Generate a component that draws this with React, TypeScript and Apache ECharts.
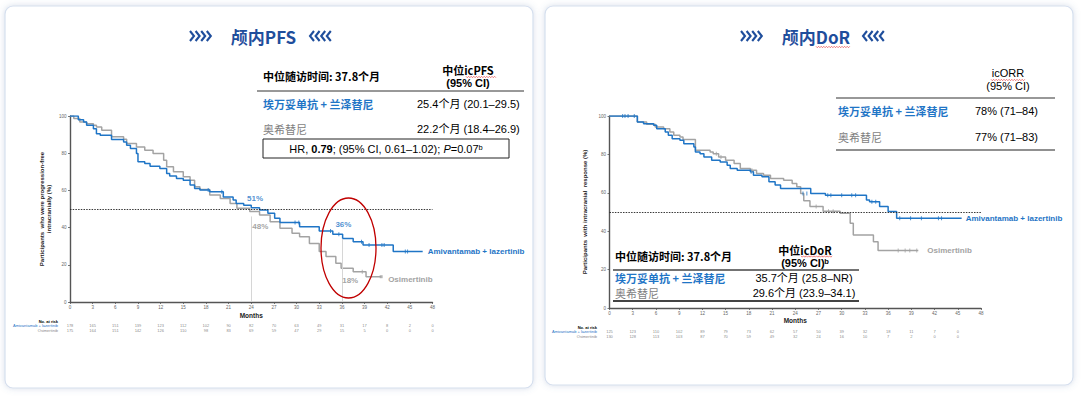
import React, { useEffect, useRef } from "react";
import * as echarts from "echarts";

// ---------------- DATA ----------------
const riskMonthsPFS = [0, 3, 6, 9, 12, 15, 18, 21, 24, 27, 30, 33, 36, 39, 42, 45, 48];
const riskMonthsDoR = [0, 3, 6, 9, 12, 15, 18, 21, 24, 27, 30, 33, 36, 39, 42, 45];

const pfsAmiRisk = [178, 165, 151, 139, 123, 112, 102, 90, 82, 70, 63, 49, 31, 17, 8, 2, 0];
const pfsOsiRisk = [175, 164, 151, 142, 126, 110, 98, 83, 69, 59, 47, 29, 15, 5, 0, 0, 0];
const dorAmiRisk = [125, 123, 110, 102, 89, 79, 73, 62, 57, 50, 39, 32, 18, 11, 7, 0];
const dorOsiRisk = [130, 128, 113, 103, 87, 70, 59, 49, 32, 24, 16, 10, 7, 2, 0, 0];

// Kaplan-Meier steps: [month, % after step]
const pfsAmi = [
  [0, 100], [1.1, 98], [1.8, 96.8], [2.2, 95], [3.1, 93.2], [3.5, 90.5], [4, 89.6], [5.5, 87.3],
  [7.1, 86], [7.5, 84.3], [8, 82.5], [8.8, 79.8], [9, 75.4], [9.9, 74.5], [10.6, 73], [11.9, 71.8],
  [12.8, 69.1], [13.2, 67.7], [14.1, 66.4], [15, 65.5], [15.9, 62.9], [16.5, 61], [17.2, 60.2],
  [18.5, 59.3], [20.3, 56.5], [21.6, 54.8], [22, 53], [23, 52], [24, 50.7], [25.1, 49.5],
  [26.2, 47.7], [27.1, 45], [27.8, 42.7], [30.4, 40.5], [33, 38.2], [34.8, 36.4], [36.1, 34.2],
  [37.5, 32.4], [38.8, 30.6], [42.8, 27.1], [46.7, 27.1],
];
const pfsOsi = [
  [0, 100], [0.5, 98.6], [1.3, 96.8], [2.2, 95.9], [3.1, 95], [3.5, 94.1], [4.2, 92.3], [5.5, 88.8],
  [7.1, 87.5], [7.5, 85.2], [8.8, 83.4], [9.9, 81.6], [11, 79.8], [12.4, 76.2], [12.8, 72.7],
  [13.7, 70], [15, 67.3], [15.9, 65.5], [16.5, 62], [17.2, 60.5], [18.5, 57.5], [19.9, 55.7],
  [21.2, 53], [22.1, 50.4], [23.8, 48.6], [25.1, 46.8], [26.5, 43.2], [27.8, 39.6], [29.4, 36.9],
  [30.4, 35.1], [31.7, 31.5], [33, 27.1], [33.9, 24.4], [35.2, 20.8], [35.9, 18.1], [37.5, 16.3],
  [39.2, 13.6], [41.2, 13.6],
];
const pfsAmiCensor = [
  [18.3, 60.2], [20.1, 59.3], [29.8, 42.7], [30.3, 42.7], [34.5, 38.2], [35.6, 36.4], [38.6, 32.4],
  [39.6, 30.6], [41.3, 30.6], [41.6, 30.6], [44.4, 27.1], [44.7, 27.1],
];
const pfsOsiCensor = [[38.7, 16.3]];
const pfsOsiEnd = [[41.2, 13.6]];

const dorAmi = [
  [0, 100], [3.6, 96.9], [4.4, 96], [5.7, 95.2], [6.1, 93.4], [7.2, 91.7], [7.6, 90], [8.1, 88.2],
  [9.1, 87.4], [9.6, 85.6], [10.9, 83.9], [11.1, 81.3], [11.7, 80.4], [12.2, 78.7], [13.2, 77],
  [14.3, 76.1], [15.2, 74.4], [15.6, 72.7], [16.5, 71.8], [18.2, 70.9], [18.6, 69.2], [19.7, 68.3],
  [20.6, 65.7], [21.4, 64], [22.1, 62.3], [26, 59.7], [27.9, 58.7], [33.2, 56.2], [33.6, 55.4],
  [34.9, 52.8], [36, 50.2], [37.1, 46.7], [45.5, 46.7],
];
const dorOsi = [
  [0, 100], [3.6, 96.9], [4.8, 95.7], [5.9, 94.3], [7, 93.4], [7.8, 91.7], [8.3, 90], [9.1, 89.1],
  [9.5, 87.7], [11.1, 82.2], [13, 81.3], [13.4, 80.4], [14.1, 78.7], [15, 77], [16.1, 75.3],
  [16.9, 72.7], [18.2, 71.8], [19, 70], [19.9, 69.2], [20.8, 67.5], [22.5, 66.6], [23.6, 64.9],
  [24.2, 63.1], [24.7, 59.7], [25.1, 55.8], [25.9, 52.8], [27.6, 50.4], [29.8, 49.3], [31.1, 44.1],
  [31.5, 38], [34.1, 34.5], [34.7, 30], [39.9, 30],
];
const dorAmiCensor = [
  [1.7, 100], [2.0, 100], [2.4, 100], [3.2, 100], [18.3, 70.9], [25.0, 59.7], [25.5, 59.7],
  [28.2, 58.7], [28.6, 58.7], [30.0, 58.7], [31.3, 58.7], [31.8, 58.7], [33.9, 55.4], [34.4, 55.4],
  [37.5, 46.7], [38.9, 46.7], [40.3, 46.7], [42.5, 46.7], [42.9, 46.7],
];
const dorOsiCensor = [
  [13.8, 80.4], [14.4, 78.7], [18.4, 71.8], [26.7, 52.8], [28.3, 50.4], [28.9, 50.4],
  [37.3, 30], [38.2, 30], [38.8, 30], [39.7, 30],
];

const pfsAmiNotes = [[24.5, 55.7, "51%"], [36.2, 41.4, "36%"]];
const pfsOsiNotes = [[25.2, 40.5, "48%"], [37.1, 11.8, "18%"]];
const pfsRefLines = [[24, 46], [36, 34]];

const yTicks = [0, 20, 40, 60, 80, 100];

// ---------------- STYLE ----------------
const BLUE = "#1f75c6";
const GRAY = "#a3a3a3";
const TITLE = "#1f4e9c";
const LAT = '"Liberation Sans", Arial, "Noto Sans CJK SC", sans-serif';
const CJK = '"Noto Sans CJK SC", "Liberation Sans", sans-serif';

function txt(x: number, y: number, text: string, o: any = {}) {
  const align = o.align || "left";
  return {
    type: "text",
    z: 50,
    silent: true,
    style: {
      x, y, text,
      fill: o.fill || "#000",
      fontSize: o.size || 11,
      fontWeight: o.weight || "normal",
      fontFamily: o.family || LAT,
      fontStyle: o.style || "normal",
      align, textAlign: align,
      verticalAlign: "middle", textVerticalAlign: "middle",
      rich: o.rich,
    },
  };
}
function hline(x1: number, x2: number, y: number, color = "#333", w = 1) {
  return { type: "line", z: 50, silent: true, shape: { x1, y1: y, x2, y2: y }, style: { stroke: color, lineWidth: w } };
}
function wavy(x1: number, x2: number, y: number) {
  const pts: number[][] = [];
  let up = true;
  for (let x = x1; x <= x2; x += 1.3) {
    pts.push([x, up ? y - 0.7 : y + 0.7]);
    up = !up;
  }
  return { type: "polyline", z: 55, silent: true, shape: { points: pts }, style: { stroke: "#e0302f", lineWidth: 0.6, fill: "none" } };
}
function chevrons(x0: number, cy: number, dir: 1 | -1) {
  const arr: any[] = [];
  for (let i = 0; i < 4; i++) {
    const x = x0 + i * 5.6;
    const pts = dir === 1
      ? [[x, cy - 5], [x + 4, cy], [x, cy + 5]]
      : [[x + 4, cy - 5], [x, cy], [x + 4, cy + 5]];
    arr.push({ type: "polyline", z: 50, silent: true, shape: { points: pts }, style: { stroke: TITLE, lineWidth: 2.1, fill: "none" } });
  }
  return arr;
}

function kmLine(data: any[], color: string, idx: number, endText: string, dist: number, off: number[], extra: any = {}) {
  return {
    type: "line", xAxisIndex: idx, yAxisIndex: idx, data, step: "end", symbol: "none",
    lineStyle: { color, width: 1.5 }, itemStyle: { color }, z: 3, silent: true,
    endLabel: { show: true, formatter: endText, color, fontSize: 8, fontWeight: "bold", fontFamily: LAT, distance: dist, offset: off },
    ...extra,
  };
}
function censor(data: any[], color: string, idx: number, size: any = [1, 4], symbol = "rect") {
  return { type: "scatter", xAxisIndex: idx, yAxisIndex: idx, data, symbol, symbolSize: size, itemStyle: { color }, z: 4, silent: true };
}
function notes(data: any[], color: string, idx: number, size = 8) {
  return {
    type: "scatter", xAxisIndex: idx, yAxisIndex: idx, data, symbolSize: 1, itemStyle: { color: "rgba(0,0,0,0)" }, z: 5, silent: true,
    label: {
      show: true, position: "inside", formatter: (p: any) => p.data[2], color, fontSize: size, fontWeight: "bold", fontFamily: LAT,
      textBorderWidth: 0, textBorderColor: "transparent",
    },
  };
}
function riskSeries(months: number[], vals: number[], row: number, idx: number) {
  return {
    type: "scatter", xAxisIndex: idx, yAxisIndex: idx, data: months.map((m, i) => [m, row, vals[i]]),
    symbolSize: 1, itemStyle: { color: "rgba(0,0,0,0)" }, silent: true,
    label: {
      show: true, position: "inside", formatter: (p: any) => String(p.data[2]), color: "#666", fontSize: 4, fontFamily: LAT,
      textBorderWidth: 0, textBorderColor: "transparent",
    },
  };
}
function refLine50() {
  return {
    silent: true, symbol: "none", label: { show: false },
    lineStyle: { color: "#222", width: 0.9, type: [1.5, 1.2] },
    data: [{ yAxis: 50 }],
  };
}

function kmX(grid: number, nameGap: number) {
  return {
    gridIndex: grid, type: "value", min: 0, max: 48, interval: 3,
    name: "Months", nameLocation: "middle", nameGap,
    nameTextStyle: { fontSize: 6.5, fontWeight: "bold", color: "#222", fontFamily: LAT },
    axisLine: { lineStyle: { color: "#555", width: 1.4 } },
    axisTick: { show: true, length: 2, lineStyle: { color: "#555", width: 0.8 } },
    axisLabel: { fontSize: 4.5, color: "#666", margin: 3, fontFamily: LAT },
    splitLine: { show: false },
  };
}
function kmY(grid: number, name: string, nameGap: number) {
  return {
    gridIndex: grid, type: "value", min: 0, max: 100, interval: 20,
    name, nameLocation: "middle", nameGap, nameRotate: 90,
    nameTextStyle: { fontSize: 6, fontWeight: "bold", color: "#222", lineHeight: 7, fontFamily: LAT },
    axisLine: { show: true, lineStyle: { color: "#555", width: 1.4 } },
    axisTick: { show: true, length: 2, lineStyle: { color: "#555", width: 0.8 } },
    axisLabel: { fontSize: 4.5, color: "#666", margin: 3.5, fontFamily: LAT, customValues: yTicks },
    splitLine: { show: false },
  };
}

export default function App() {
  const ref = useRef<HTMLDivElement>(null);
  useEffect(() => {
    if (!ref.current) return;
    const chart = echarts.init(ref.current, undefined, { renderer: "svg" });

    const card = (x: number, y: number, w: number, h: number) => ({
      type: "rect", z: -5, silent: true,
      shape: { x, y, width: w, height: h, r: 8 },
      style: { fill: "#fff", stroke: "#d5dfee", lineWidth: 1.2, shadowBlur: 6, shadowColor: "rgba(90,120,170,0.25)" },
    });

    const graphic: any[] = [
      card(5, 6, 528, 382),
      card(545, 6, 528, 379),
      // titles
      ...chevrons(190, 36, 1),
      txt(263.5, 36, "颅内PFS", { size: 17, weight: "bold", fill: TITLE, family: CJK, align: "center" }),
      ...chevrons(310, 36, -1),
      ...chevrons(741, 36, 1),
      txt(816, 36, "颅内DoR", { size: 17, weight: "bold", fill: TITLE, family: CJK, align: "center" }),
      ...chevrons(863, 36, -1),
      wavy(816, 850, 47),

      // PFS table
      txt(263, 76, "中位随访时间: 37.8个月", { weight: "bold", family: CJK }),
      txt(468, 70, "中位icPFS", { weight: "bold", family: CJK, align: "center" }),
      wavy(466, 497, 77),
      txt(468, 83, "(95% CI)", { weight: "bold", align: "center" }),
      hline(257, 524, 91, "#333", 1),
      txt(263, 104, "埃万妥单抗 + 兰泽替尼", { weight: "bold", fill: BLUE, family: CJK }),
      txt(417, 104, "25.4个月 (20.1–29.5)"),
      txt(263, 129, "奥希替尼", { fill: "#7f7f7f", family: CJK }),
      txt(417, 129, "22.2个月 (18.4–26.9)"),
      { type: "rect", z: 50, silent: true, shape: { x: 263, y: 139, width: 246, height: 19 }, style: { fill: "none", stroke: "#222", lineWidth: 1 } },
      txt(386, 148.5, "{n|HR, }{b|0.79}{n|; (95% CI, 0.61–1.02); }{i|P}{n|=0.07ᵇ}", {
        align: "center",
        rich: {
          n: { fontSize: 11, fontFamily: LAT, fill: "#000" },
          b: { fontSize: 11, fontFamily: LAT, fontWeight: "bold", fill: "#000" },
          i: { fontSize: 11, fontFamily: LAT, fontStyle: "italic", fill: "#000" },
        },
      }),

      // ORR table
      txt(1008, 73, "icORR", { align: "center" }),
      wavy(991, 1025, 80),
      txt(1008, 86, "(95% CI)", { align: "center" }),
      hline(836, 1055, 98, "#333", 1.2),
      txt(838, 111, "埃万妥单抗 + 兰泽替尼", { weight: "bold", fill: BLUE, family: CJK }),
      txt(975, 111, "78% (71–84)"),
      txt(838, 137, "奥希替尼", { fill: "#7f7f7f", family: CJK }),
      txt(975, 137, "77% (71–83)"),
      hline(836, 1055, 150, "#222", 1.2),

      // DoR inset table
      txt(615, 256, "中位随访时间: 37.8个月", { weight: "bold", family: CJK }),
      txt(805, 250, "中位icDoR", { weight: "bold", family: CJK, align: "center" }),
      wavy(801, 833, 256.5),
      txt(805, 262.5, "(95% CI)ᵇ", { weight: "bold", align: "center" }),
      hline(613, 859, 270, "#444", 1.5),
      txt(615, 278, "埃万妥单抗 + 兰泽替尼", { weight: "bold", fill: BLUE, family: CJK }),
      txt(804, 278, "35.7个月 (25.8–NR)", { align: "center" }),
      txt(615, 293, "奥希替尼", { fill: "#7f7f7f", family: CJK }),
      txt(804, 293, "29.6个月 (23.9–34.1)", { align: "center" }),
      hline(613, 859, 301, "#444", 2),

      // red highlight ellipse
      { type: "ellipse", z: 60, silent: true, shape: { cx: 348.5, cy: 248, rx: 27.5, ry: 50 }, style: { fill: "none", stroke: "#c00000", lineWidth: 1.3 } },

      // at-risk labels
      txt(58, 321, "No. at risk", { size: 4, weight: "bold", align: "right" }),
      txt(58, 325.5, "Amivantamab + lazertinib", { size: 4, fill: BLUE, align: "right" }),
      txt(58, 330, "Osimertinib", { size: 4, fill: "#888", align: "right" }),
      txt(597, 327.3, "No. at risk", { size: 4, weight: "bold", align: "right" }),
      txt(597, 331.7, "Amivantamab + lazertinib", { size: 4, fill: BLUE, align: "right" }),
      txt(597, 336, "Osimertinib", { size: 4, fill: "#888", align: "right" }),
    ];

    const option: any = {
      animation: false,
      backgroundColor: "#ffffff",
      grid: [
        { left: 70, top: 116, width: 362.5, height: 186 },
        { left: 609.5, top: 116, width: 371.5, height: 192 },
        { left: 70, top: 325.5, width: 362.5, height: 4.5 },
        { left: 609.5, top: 331.7, width: 371.5, height: 4.3 },
      ],
      xAxis: [
        kmX(0, 10),
        kmX(1, 9.5),
        { gridIndex: 2, type: "value", min: 0, max: 48, show: false },
        { gridIndex: 3, type: "value", min: 0, max: 48, show: false },
      ],
      yAxis: [
        kmY(0, "Participants  who were progression-free\nintracranially (%)", 18),
        kmY(1, "Participants  with intracranial  response (%)", 21),
        { gridIndex: 2, type: "value", min: 0, max: 1, inverse: true, show: false },
        { gridIndex: 3, type: "value", min: 0, max: 1, inverse: true, show: false },
      ],
      series: [
        // PFS
        kmLine(pfsOsi, GRAY, 0, "Osimertinib", 7, [0, 3], { markLine: refLine50() }),
        kmLine(pfsAmi, BLUE, 0, "Amivantamab + lazertinib", 5, [0, 0]),
        censor(pfsAmiCensor, BLUE, 0),
        censor(pfsOsiCensor, GRAY, 0),
        censor(pfsOsiEnd, GRAY, 0, 3),
        {
          ...notes(pfsAmiNotes, BLUE, 0),
          markLine: {
            silent: true, symbol: "none", label: { show: false },
            lineStyle: { color: "#d6d6d6", width: 1, type: "solid" },
            data: pfsRefLines.map((r) => [{ coord: [r[0], r[1]] }, { coord: [r[0], 0] }]),
          },
        },
        notes(pfsOsiNotes, "#8c8c8c", 0),
        // DoR
        kmLine(dorOsi, GRAY, 1, "Osimertinib", 9, [0, 0], { markLine: refLine50() }),
        kmLine(dorAmi, BLUE, 1, "Amivantamab + lazertinib", 4, [0, 0]),
        censor(dorAmiCensor, BLUE, 1),
        censor(dorOsiCensor, GRAY, 1),
        // at risk
        riskSeries(riskMonthsPFS, pfsAmiRisk, 0, 2),
        riskSeries(riskMonthsPFS, pfsOsiRisk, 1, 2),
        riskSeries(riskMonthsDoR, dorAmiRisk, 0, 3),
        riskSeries(riskMonthsDoR, dorOsiRisk, 1, 3),
      ],
      graphic,
    };
    chart.setOption(option);
    return () => chart.dispose();
  }, []);

  return (
    <div
      ref={ref}
      style={{ position: "absolute", left: 0, top: 0, width: 1090, height: 397, background: "#fff" }}
    />
  );
}
